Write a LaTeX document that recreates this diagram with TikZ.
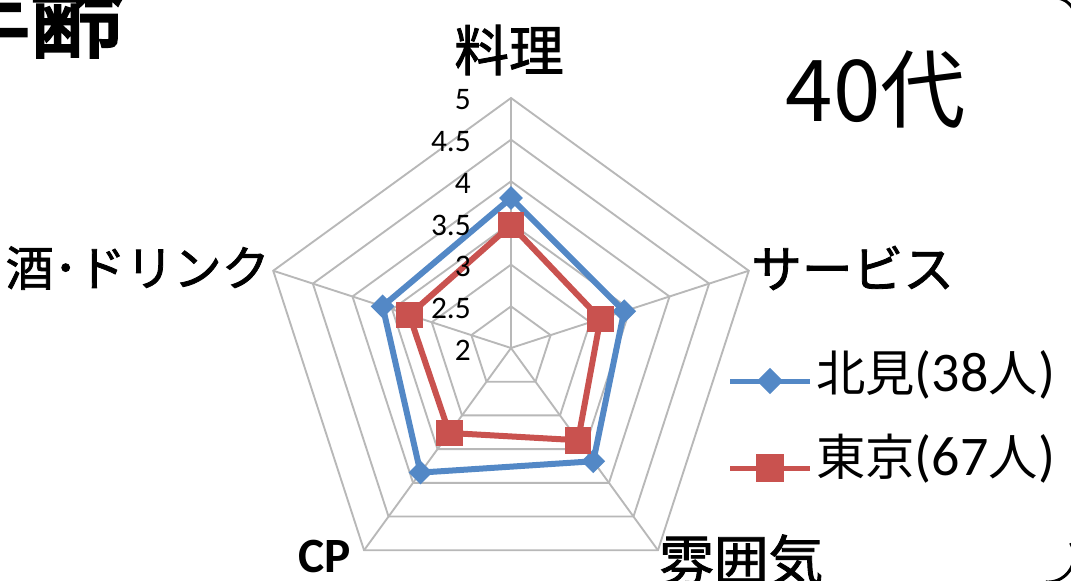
\documentclass[tikz,border=0pt]{standalone}
\usepackage{fontspec}
\setmainfont{Carlito}
\newfontfamily\jp{Noto Sans CJK JP}
\newfontfamily\jpm[FakeBold=1.6]{Noto Sans CJK JP}
\newfontfamily\jph[FakeBold=3]{Noto Sans CJK JP}
\usetikzlibrary{shapes.geometric}
\definecolor{gridgray}{HTML}{B8B8B8}
\definecolor{serblue}{HTML}{5388C6}
\definecolor{serred}{HTML}{C9524F}
\tikzset{
  grid/.style={draw=gridgray, line width=1.4pt},
  blueser/.style={draw=serblue, line width=4.5pt},
  redser/.style={draw=serred, line width=4.5pt},
  bmark/.style={diamond, fill=serblue, inner sep=0pt, minimum size=18pt},
  rmark/.style={rectangle, fill=serred, inner sep=0pt, minimum size=20pt},
  lbl/.style={font=\jpm\fontsize{38}{40}\selectfont, inner sep=0pt},
  num/.style={font=\fontsize{23.5}{25}\selectfont, anchor=east, inner sep=0pt},
  legtxt/.style={font=\fontsize{42}{44}\selectfont, inner sep=0pt, anchor=west},
  frame/.style={draw=black, line width=2.2pt},
}
\newcommand{\lj}[1]{{\jp\fontsize{37}{39}\selectfont #1}}
\begin{document}
\begin{tikzpicture}[x=0.75pt,y=-0.75pt]
\useasboundingbox (0,0) rectangle (1071,581);
\fill[white] (0,0) rectangle (1071,581);

% title (cut off at top)
\node[font=\jph\fontsize{70}{74}\selectfont, inner sep=0pt, anchor=base east] (ttl) at (124,50) {年齢};

% frame corners
\draw[frame] plot[domain=-95:20,samples=30] ({1055+20*cos(\x)},{18+20*sin(\x)});
\draw[frame] plot[domain=-30:95,samples=30] ({1048+26*cos(\x)},{556+26*sin(\x)});

\begin{scope}[shift={(511,348)}]
  \coordinate (c) at (0,0);
  \foreach \k in {1,...,6}{
    \pgfmathsetmacro\rr{\k*41.667}
    \draw[grid] (-90:\rr) -- (-18:\rr) -- (54:\rr) -- (126:\rr) -- (198:\rr) -- cycle;
  }
  \foreach \a in {-90,-18,54,126,198} \draw[grid] (c) -- (\a:250);

  % data: r = (v-2)*83.333
  \coordinate (b1) at (-90:150);
  \coordinate (b2) at (-18:119);
  \coordinate (b3) at (54:140);
  \coordinate (b4) at (126:154);
  \coordinate (b5) at (198:135);
  \coordinate (r1) at (-90:123);
  \coordinate (r2) at (-18:94);
  \coordinate (r3) at (54:114);
  \coordinate (r4) at (126:105);
  \coordinate (r5) at (198:107);

  \draw[blueser] (b1) -- (b2) -- (b3) -- (b4) -- (b5) -- cycle;
  \foreach \p in {b1,b2,b3,b4,b5} \node[bmark] (m\p) at (\p) {};
  \draw[redser] (r1) -- (r2) -- (r3) -- (r4) -- (r5) -- cycle;
  \foreach \p in {r1,r2,r3,r4,r5} \node[rmark] (m\p) at (\p) {};

  \foreach \k/\t in {0/2,1/2.5,2/3,3/3.5,4/4,5/4.5,6/5}
    \node[num] (n\k) at (-40,{-\k*41.667+2}) {\t};
\end{scope}

% axis labels
\node[lbl, font=\jpm\fontsize{41}{43}\selectfont] (lry) at (509,50) {料理};
\node[lbl,anchor=west] (lsv) at (751,268) {サービス};
\node[lbl,anchor=east, font=\jpm\fontsize{36}{38}\selectfont] (lsk) at (270,268) {酒･ドリンク};
\node[font=\bfseries\fontsize{37}{39}\selectfont, inner sep=0pt] (lcp) at (325,556) {CP};
\node[lbl,anchor=west, font=\jpm\fontsize{41}{43}\selectfont] (lfi) at (659,560) {雰囲気};

% age
\node[font=\jp\fontsize{64}{66}\selectfont, inner sep=0pt] (age) at (876,90) {40代};

% legend
\coordinate (la1) at (730,381); \coordinate (la2) at (810,381);
\draw[draw=serblue, line width=3.75pt] (la1) -- (la2);
\node[bmark, minimum size=20pt] (lbm) at (770,381) {};
\node[legtxt] (lbt) at (816,375) {\lj{北見}(38\lj{人})};
\coordinate (lb1) at (730,468); \coordinate (lb2) at (810,468);
\draw[draw=serred, line width=3.75pt] (lb1) -- (lb2);
\node[rmark, minimum size=21pt] (lrm) at (770,468) {};
\node[legtxt] (lrt) at (816,459) {\lj{東京}(67\lj{人})};
\end{tikzpicture}
\end{document}
